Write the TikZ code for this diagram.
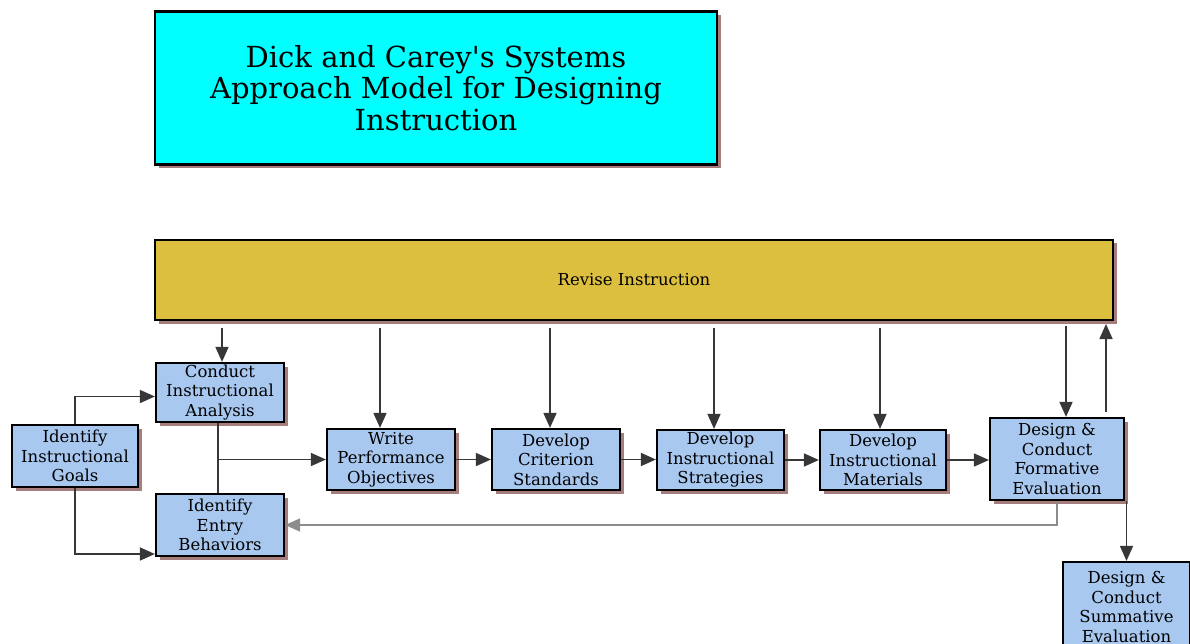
\documentclass[tikz,border=0pt]{standalone}
\usepackage{fontspec}
\setmainfont{DejaVu Serif}
\usetikzlibrary{arrows.meta,shadows,calc}

\definecolor{titlecyan}{RGB}{0,255,255}
\definecolor{revisegold}{RGB}{221,191,64}
\definecolor{stepblue}{RGB}{168,200,240}
\definecolor{shadowbrown}{RGB}{165,125,125}
\definecolor{linegray}{RGB}{55,55,55}
\definecolor{returngray}{RGB}{140,140,140}

\tikzset{
  boxshadow/.style={drop shadow={shadow xshift=3.5pt, shadow yshift=-3.5pt, fill=shadowbrown, opacity=1}},
  stepbox/.style={draw=black, line width=2.2pt, fill=stepblue, boxshadow,
    align=center, inner sep=1pt, font=\fontsize{16.5}{19.5}\selectfont},
  arr/.style={draw=linegray, line width=1.6pt, -{Triangle[length=15pt,width=13pt]}},
  plainline/.style={draw=linegray, line width=1.6pt},
}

\begin{document}
\begin{tikzpicture}[x=1pt, y=-1pt]
  \clip (0,0) rectangle (1190,644);
  \useasboundingbox (0,0) rectangle (1190,644);

  % title block
  \node (title) [draw=black, line width=2.6pt, fill=titlecyan, boxshadow,
    minimum width=562pt, minimum height=153pt, align=center,
    font=\fontsize{29}{31.5}\selectfont] at (436,88)
    {Dick and Carey\textquotesingle s Systems\\Approach Model for Designing\\Instruction};

  % revision bar
  \node (rev) [draw=black, line width=2.8pt, fill=revisegold, boxshadow,
    minimum width=958pt, minimum height=80pt,
    font=\fontsize{16.5}{19.5}\selectfont] at (634,280) {Revise Instruction};

  % process steps
  \node (conduct) [stepbox, minimum width=128pt, minimum height=59pt] at (220,392.5)
    {Conduct\\Instructional\\Analysis};
  \node (goals) [stepbox, minimum width=126pt, minimum height=62pt] at (75,456)
    {Identify\\Instructional\\Goals};
  \node (entry) [stepbox, minimum width=128pt, minimum height=62pt] at (220,525)
    {Identify\\Entry\\Behaviors};
  \node (write) [stepbox, minimum width=128pt, minimum height=61pt] at (391,459.5)
    {Write\\Performance\\Objectives};
  \node (crit) [stepbox, minimum width=128pt, minimum height=61pt] at (556,459.5)
    {Develop\\Criterion\\Standards};
  \node (strat) [stepbox, minimum width=127pt, minimum height=60pt] at (720.5,460)
    {Develop\\Instructional\\Strategies};
  \node (mat) [stepbox, minimum width=126pt, minimum height=60pt] at (883,460)
    {Develop\\Instructional\\Materials};
  \node (form) [stepbox, minimum width=134pt, minimum height=82pt] at (1057,459)
    {Design \&\\Conduct\\Formative\\Evaluation};
  \node (summ) [stepbox, minimum width=127pt, minimum height=90pt] at (1126.5,607)
    {Design \&\\Conduct\\Summative\\Evaluation};

  % feed points below the revision bar
  \coordinate (rc) at (222,328);
  \coordinate (rw) at (380,328);
  \coordinate (rk) at (550,328);
  \coordinate (rs) at (714,328);
  \coordinate (rm) at (880,328);
  \coordinate (rf) at (1066,326);
  \coordinate (ru) at (1106,324);

  \draw[arr] (rc) -- (rc |- conduct.north);
  \draw[arr] (rw) -- (rw |- write.north);
  \draw[arr] (rk) -- (rk |- crit.north);
  \draw[arr] (rs) -- (rs |- strat.north);
  \draw[arr] (rm) -- (rm |- mat.north);
  \draw[arr] (rf) -- (rf |- form.north);
  \draw[arr] ([yshift=5pt]ru |- form.north) -- (ru);

  % goals feed analysis and entry behaviours
  \draw[arr] (goals.north) |- ([yshift=-4pt]conduct.west);
  \draw[arr] (goals.south) |- ([yshift=-29pt]entry.west);

  % analysis and entry behaviours feed the objectives
  \coordinate (ca) at (218,0);
  \draw[plainline] (ca |- conduct.south) -- (ca |- entry.north);
  \draw[arr] (ca |- write.west) -- (write.west);

  % main chain
  \draw[arr] (write.east) -- (write.east -| crit.west);
  \draw[arr] (crit.east) -- (crit.east -| strat.west);
  \draw[arr] (strat.east) -- (strat.east -| mat.west);
  \draw[arr] (mat.east) -- (mat.east -| form.west);

  % formative evaluation loops back and leads on
  \draw[arr, draw=returngray] (form.south) |- (entry.east);
  \draw[arr] (summ.north |- form.south) -- (summ.north);
\end{tikzpicture}
\end{document}
